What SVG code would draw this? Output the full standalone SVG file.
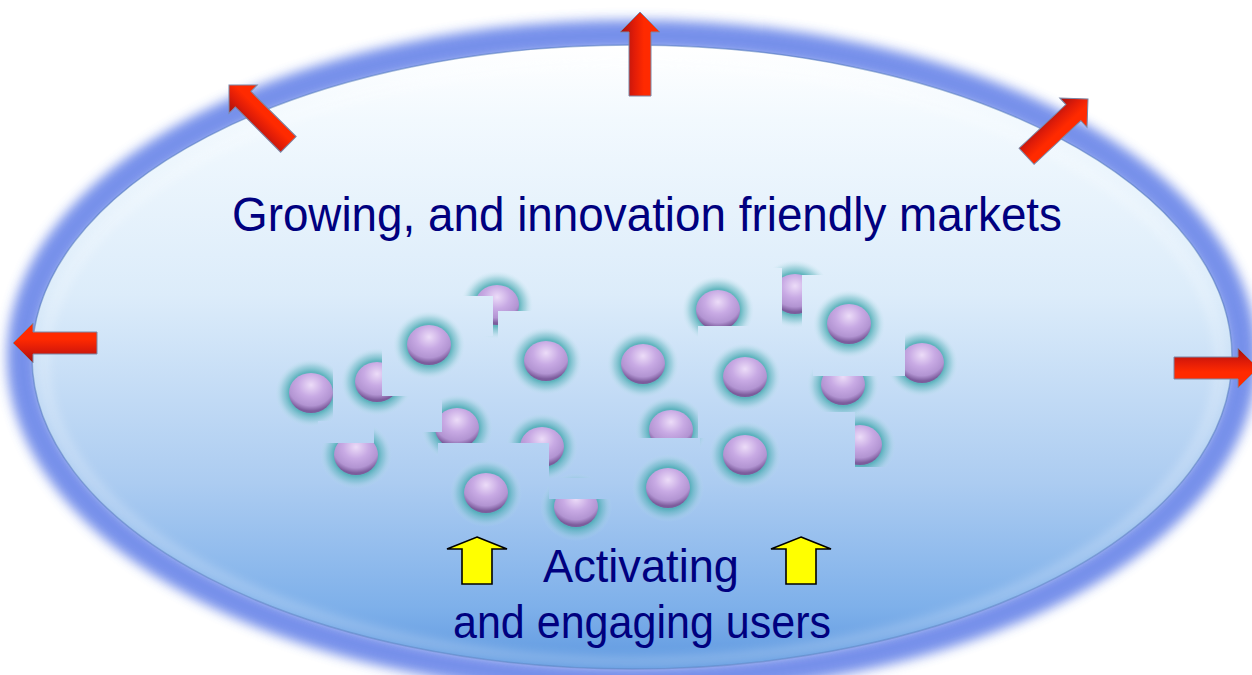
<svg xmlns="http://www.w3.org/2000/svg" width="1252" height="675" viewBox="0 0 1252 675">
<defs>
<style>
.lbl{font-family:"Liberation Sans",Arial,sans-serif;fill:#00007f;}
.red{stroke:#7a88a8;stroke-width:1;}
.yel{fill:#ffff00;stroke:#000;stroke-width:1.6;stroke-linejoin:miter;}
.bg{fill:url(#bgGrad);}
</style>
<linearGradient id="bgGrad" gradientUnits="userSpaceOnUse" x1="0" y1="45" x2="0" y2="670">
<stop offset="0" stop-color="#ffffff"/>
<stop offset="0.12" stop-color="#f2f9fe"/>
<stop offset="0.4" stop-color="#dcecfa"/>
<stop offset="0.7" stop-color="#acccf1"/>
<stop offset="0.9" stop-color="#7eb0ea"/>
<stop offset="1" stop-color="#5e98e0"/>
</linearGradient>
<linearGradient id="redGrad" x1="0" y1="0" x2="1" y2="0">
<stop offset="0" stop-color="#a01010"/>
<stop offset="0.35" stop-color="#e01c08"/>
<stop offset="0.6" stop-color="#ff2a00"/>
<stop offset="1" stop-color="#ff2a00"/>
</linearGradient>
<radialGradient id="glowGrad" cx="0.5" cy="0.5" r="0.5">
<stop offset="0" stop-color="#3aa3ab" stop-opacity="0.9"/>
<stop offset="0.62" stop-color="#45a9b0" stop-opacity="0.8"/>
<stop offset="0.8" stop-color="#6fbcc4" stop-opacity="0.45"/>
<stop offset="1" stop-color="#c0e4ea" stop-opacity="0"/>
</radialGradient>
<radialGradient id="ballGrad" cx="0.5" cy="0.3" r="0.65">
<stop offset="0" stop-color="#ecdcf8"/>
<stop offset="0.45" stop-color="#c8aae4"/>
<stop offset="0.8" stop-color="#b294d2"/>
<stop offset="1" stop-color="#7c5c9c"/>
</radialGradient>
<filter id="blur6" x="-10%" y="-10%" width="120%" height="120%">
<feGaussianBlur stdDeviation="6"/>
</filter>
<g id="ball">
<ellipse cx="0" cy="0" rx="36" ry="34" fill="url(#glowGrad)"/>
<ellipse cx="0" cy="0" rx="22" ry="20" fill="url(#ballGrad)"/>
</g>
<path id="redArrow" d="M0,0 L20,20 L11,20 L11,84 L-11,84 L-11,20 L-20,20 Z" fill="url(#redGrad)" class="red"/>
<path id="yelArrow" d="M0,0 L30,12 L15,12 L15,47 L-15,47 L-15,12 L-30,12 Z" class="yel"/>
</defs>

<g id="oval">
<ellipse cx="632" cy="357" rx="610" ry="322" fill="none" stroke="#3c62e2" stroke-width="30" filter="url(#blur6)" opacity="0.7"/>
<ellipse cx="632" cy="357" rx="600" ry="312" class="bg"/>
<ellipse cx="632" cy="357" rx="600" ry="312" fill="none" stroke="#4a74b8" stroke-width="1.5" opacity="0.5"/>
<ellipse cx="632" cy="362" rx="588" ry="300" fill="none" stroke="#ffffff" stroke-width="5" opacity="0.5" filter="url(#blur6)"/>
</g>

<g id="red-arrows">
<use href="#redArrow" transform="translate(640,12)"/>
<use href="#redArrow" transform="translate(229,85) rotate(-45)"/>
<use href="#redArrow" transform="translate(1088,99) rotate(47)"/>
<use href="#redArrow" transform="translate(13,343) rotate(-90)"/>
<use href="#redArrow" transform="translate(1258,368) rotate(90)"/>
</g>

<g id="title">
<text class="lbl" x="232" y="231" font-size="48" textLength="830" lengthAdjust="spacingAndGlyphs">Growing, and innovation friendly markets</text>
</g>

<g id="users">
<use href="#ball" x="311" y="393"/>
<rect class="bg" x="333" y="358" width="17" height="70"/>
<use href="#ball" x="377" y="382"/>
<rect class="bg" x="382" y="338" width="52" height="58"/>
<use href="#ball" x="497" y="305"/>
<rect class="bg" x="462" y="296" width="31" height="40"/>
<rect class="bg" x="498" y="311" width="36" height="30"/>
<use href="#ball" x="429" y="345"/>
<use href="#ball" x="546" y="361"/>
<use href="#ball" x="457" y="428"/>
<rect class="bg" x="412" y="400" width="30" height="32"/>
<use href="#ball" x="356" y="455"/>
<rect class="bg" x="318" y="421" width="56" height="22"/>
<use href="#ball" x="542" y="447"/>
<rect class="bg" x="438" y="443" width="111" height="87"/>
<use href="#ball" x="576" y="507"/>
<rect class="bg" x="549" y="478" width="62" height="21"/>
<use href="#ball" x="486" y="493"/>
<use href="#ball" x="643" y="364"/>
<use href="#ball" x="718" y="310"/>
<rect class="bg" x="698" y="326" width="62" height="20"/>
<use href="#ball" x="795" y="294"/>
<rect class="bg" x="758" y="268" width="24" height="62"/>
<rect class="bg" x="802" y="275" width="30" height="55"/>
<use href="#ball" x="922" y="363"/>
<rect class="bg" x="880" y="328" width="25" height="48"/>
<use href="#ball" x="843" y="385"/>
<rect class="bg" x="813" y="352" width="92" height="24"/>
<use href="#ball" x="849" y="324"/>
<use href="#ball" x="745" y="377"/>
<use href="#ball" x="671" y="430"/>
<rect class="bg" x="633" y="438" width="67" height="22"/>
<rect class="bg" x="698" y="398" width="16" height="40"/>
<use href="#ball" x="860" y="445"/>
<rect class="bg" x="812" y="412" width="43" height="55"/>
<rect class="bg" x="812" y="467" width="90" height="24"/>
<use href="#ball" x="745" y="455"/>
<use href="#ball" x="668" y="488"/>
</g>

<g id="yellow-arrows">
<use href="#yelArrow" transform="translate(477,537)"/>
<use href="#yelArrow" transform="translate(801,537)"/>
</g>

<g id="caption">
<text class="lbl" x="543" y="582" font-size="46" textLength="196" lengthAdjust="spacingAndGlyphs">Activating</text>
<text class="lbl" x="453" y="638" font-size="46" textLength="378" lengthAdjust="spacingAndGlyphs">and engaging users</text>
</g>
</svg>
